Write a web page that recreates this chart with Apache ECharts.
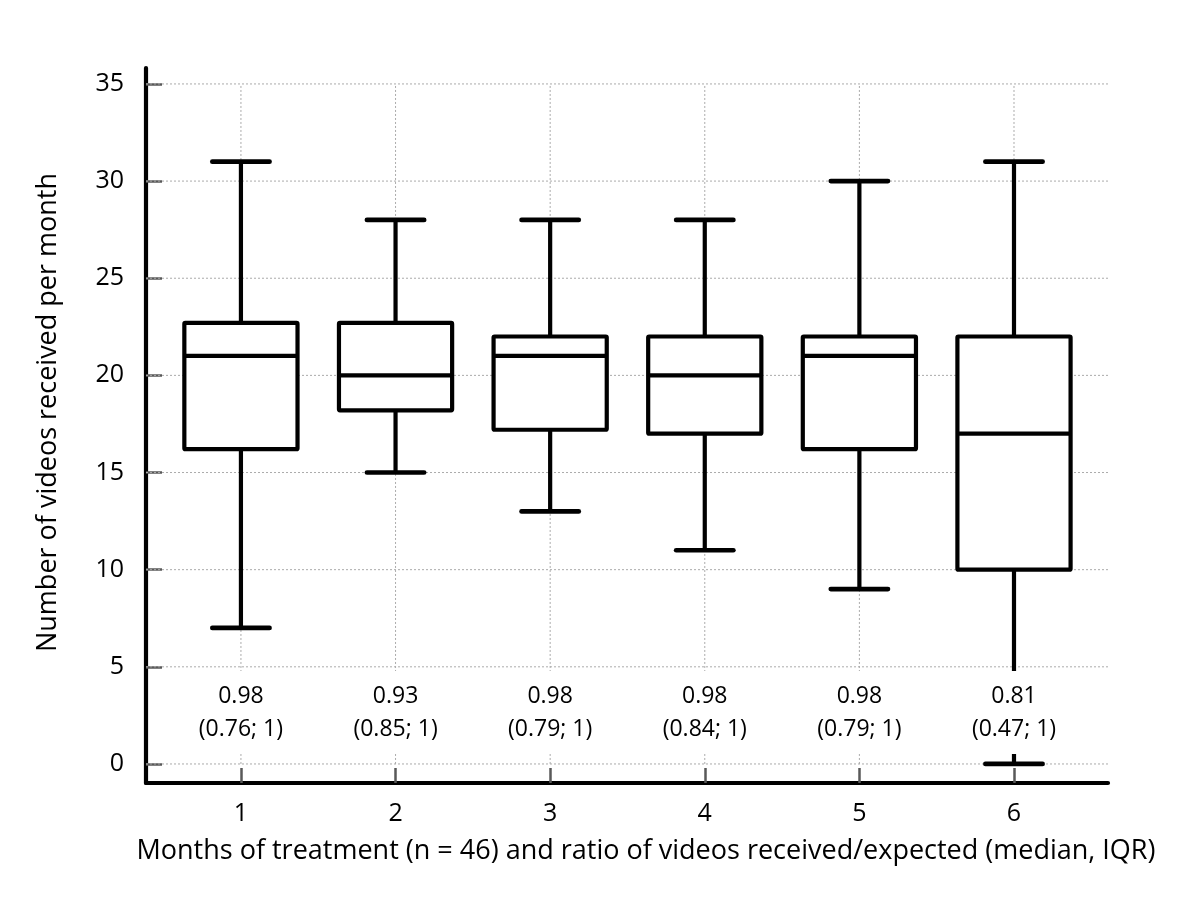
<!DOCTYPE html>
<html>
<head>
<meta charset="utf-8">
<script src="https://cdn.jsdelivr.net/npm/echarts@6/dist/echarts.min.js"></script>
<style>
html,body{margin:0;padding:0;background:#fff;}
#chart{width:1200px;height:915px;}
</style>
</head>
<body>
<div id="chart"></div>
<script>
// ---- data ----
const months = [1, 2, 3, 4, 5, 6];
const whiskerLow = [7, 15, 13, 11, 9, 0];
const q1 = [16.2, 18.2, 17.2, 17, 16.2, 10];
const median = [21, 20, 21, 20, 21, 17];
const q3 = [22.7, 22.7, 22, 22, 22, 22];
const whiskerHigh = [31, 28, 28, 28, 30, 31];
const ratioMedian = ['0.98', '0.93', '0.98', '0.98', '0.98', '0.81'];
const ratioIQR = ['(0.76; 1)', '(0.85; 1)', '(0.79; 1)', '(0.84; 1)', '(0.79; 1)', '(0.47; 1)'];
const yTicks = [0, 5, 10, 15, 20, 25, 30, 35];
const xTicks = [1, 2, 3, 4, 5, 6];

// ---- layout / style constants ----
const X_MIN = 0.386, X_MAX = 6.608;
const Y_MIN = -0.98, Y_MAX = 35.82;
const BOX_HALF = 0.366;   // in x units
const CAP_HALF = 0.185;
const LABEL_Y = 2.65;
const FONT = "'Open Sans', sans-serif";
const LW = 4.2;

const boxData = months.map((m, i) => [m, whiskerLow[i], q1[i], median[i], q3[i], whiskerHigh[i]]);
const labelData = months.map((m, i) => [m, LABEL_Y, ratioMedian[i] + '\n' + ratioIQR[i]]);

const chart = echarts.init(document.getElementById('chart'), null, {renderer: 'canvas'});

function line(p1, p2, style) {
  return {type: 'line', shape: {x1: p1[0], y1: p1[1], x2: p2[0], y2: p2[1]}, style: style};
}

const option = {
  animation: false,
  backgroundColor: '#ffffff',
  grid: {left: 146, right: 92, top: 68, bottom: 132, containLabel: false},
  xAxis: {
    type: 'value', min: X_MIN, max: X_MAX,
    axisLine: {show: true, onZero: false, lineStyle: {color: '#000', width: LW}},
    axisTick: {show: true, inside: true, length: 15, customValues: xTicks, lineStyle: {color: '#595959', width: 2.5}},
    axisLabel: {show: true, customValues: xTicks, margin: 18, color: '#000', fontSize: 25, fontFamily: FONT},
    splitLine: {show: false},
    name: 'Months of treatment (n = 46) and ratio of videos received/expected (median, IQR)',
    nameLocation: 'middle', nameGap: 55,
    nameTextStyle: {color: '#000', fontSize: 27, fontFamily: FONT, padding: [0, 0, 0, 38]}
  },
  yAxis: {
    type: 'value', min: Y_MIN, max: Y_MAX,
    axisLine: {show: true, onZero: false, lineStyle: {color: '#000', width: LW}},
    axisTick: {show: true, inside: true, length: 16, customValues: yTicks, lineStyle: {color: '#595959', width: 2.5}},
    axisLabel: {show: true, customValues: yTicks, margin: 22, color: '#000', fontSize: 25, fontFamily: FONT},
    splitLine: {show: false},
    name: 'Number of videos received per month',
    nameLocation: 'middle', nameGap: 84, nameRotate: 90,
    nameTextStyle: {color: '#000', fontSize: 27, fontFamily: FONT, padding: [0, 0, 0, 26]}
  },
  series: [
    {
      // horizontal grid lines
      type: 'custom', z: 1, silent: true,
      data: yTicks.map(v => [v]),
      encode: {y: 0},
      renderItem: function (params, api) {
        const v = api.value(0);
        const a = api.coord([X_MIN, v]), b = api.coord([X_MAX, v]);
        return line(a, b, {stroke: '#ababab', lineWidth: 1, lineDash: [2, 2]});
      }
    },
    {
      // vertical grid lines
      type: 'custom', z: 1, silent: true,
      data: xTicks.map(v => [v]),
      encode: {x: 0},
      renderItem: function (params, api) {
        const v = api.value(0);
        const a = api.coord([v, yTicks[0]]), b = api.coord([v, yTicks[yTicks.length - 1]]);
        return line(a, b, {stroke: '#ababab', lineWidth: 1, lineDash: [2, 2]});
      }
    },
    {
      // box plots
      type: 'custom', z: 3, silent: true,
      data: boxData,
      encode: {x: 0, y: [1, 2, 3, 4, 5]},
      renderItem: function (params, api) {
        const x = api.value(0);
        const pLo = api.coord([x, api.value(1)]);
        const pQ1 = api.coord([x, api.value(2)]);
        const pMed = api.coord([x, api.value(3)]);
        const pQ3 = api.coord([x, api.value(4)]);
        const pHi = api.coord([x, api.value(5)]);
        const hw = api.size([BOX_HALF, 0])[0];
        const cw = api.size([CAP_HALF, 0])[0];
        const st = {stroke: '#000', lineWidth: LW, lineCap: 'butt'};
        const capSt = {stroke: '#000', lineWidth: LW + 0.5, lineCap: 'round'};
        return {
          type: 'group',
          children: [
            line(pQ3, pHi, st),
            line(pQ1, pLo, st),
            line([pHi[0] - cw, pHi[1]], [pHi[0] + cw, pHi[1]], capSt),
            line([pLo[0] - cw, pLo[1]], [pLo[0] + cw, pLo[1]], capSt),
            {type: 'rect', shape: {x: pQ3[0] - hw, y: pQ3[1], width: 2 * hw, height: pQ1[1] - pQ3[1], r: 1},
             style: {fill: '#fff', stroke: '#000', lineWidth: LW, lineJoin: 'round'}},
            line([pMed[0] - hw, pMed[1]], [pMed[0] + hw, pMed[1]], st)
          ]
        };
      }
    },
    {
      // ratio labels
      type: 'custom', z: 5, silent: true,
      data: labelData,
      encode: {x: 0, y: 1},
      renderItem: function (params, api) {
        const p = api.coord([api.value(0), api.value(1)]);
        return {
          type: 'text', x: p[0], y: p[1],
          style: {
            text: labelData[params.dataIndex][2],
            fill: '#000', font: '23px ' + FONT,
            align: 'center', verticalAlign: 'middle',
            lineHeight: 33, backgroundColor: '#fff', padding: [13, 4, 4, 4]
          }
        };
      }
    }
  ]
};
chart.setOption(option);
</script>
</body>
</html>
